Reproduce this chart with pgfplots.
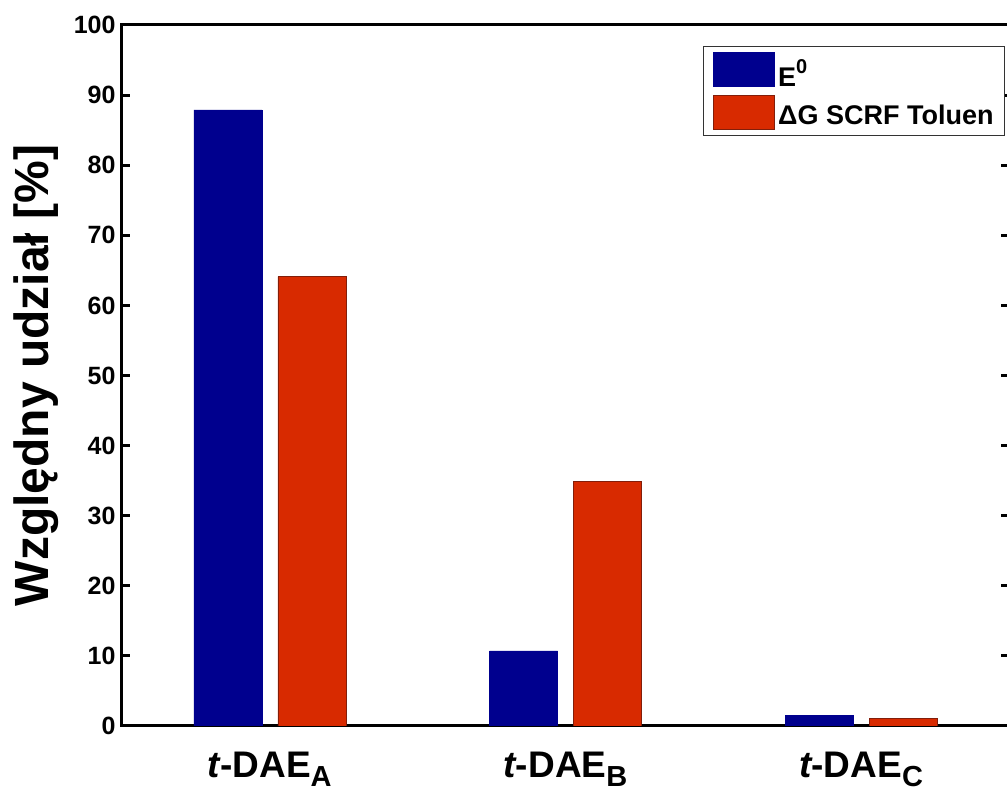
\documentclass[border=0pt]{standalone}
\usepackage{fontspec}
\setmainfont{Liberation Sans}
\usepackage{pgfplots}
\pgfplotsset{compat=1.18}
\definecolor{myblue}{RGB}{0,0,142}
\definecolor{myred}{RGB}{216,42,0}
\definecolor{myrededge}{RGB}{130,30,10}
\newcommand{\sub}[1]{\raisebox{-0.24em}{\fontsize{29}{29}\selectfont #1}}
\begin{document}
\begin{tikzpicture}
\begin{axis}[
  scale only axis, width=887pt, height=701pt,
  xmin=-0.5, xmax=2.5, ymin=0, ymax=100,
  ytick={0,10,...,100},
  xtick={0,1,2},
  xticklabels={{\itshape t}-DAE\sub{A},{\itshape t}-DAE\sub{B},{\itshape t}-DAE\sub{C}},
  ybar, bar width=0.23,
  axis line style={line width=3pt},
  every tick/.style={line width=3pt, black},
  major tick length=8pt, tick align=inside, ytick pos=both,
  xtick style={draw=none},
  /pgf/number format/assume math mode=true,
  yticklabel style={font=\bfseries\fontsize{25}{25}\selectfont, xshift=-3pt},
  xticklabel style={font=\bfseries\fontsize{37}{37}\selectfont, yshift=-25pt, inner sep=1pt},
  ylabel={Względny udział [\%]},
  ylabel style={font=\bfseries\fontsize{48}{48}\selectfont, at={(rel axis cs:0,0.5)}, anchor=center, yshift=85.5pt},
  legend image code/.code={\draw[#1, line width=0.6pt] (0pt,-13pt) rectangle (61pt,21pt);},
  legend style={at={(rel axis cs:1,1)}, anchor=north east, xshift=-4pt, yshift=-21pt,
    draw=black!80, line width=1pt, font=\bfseries\fontsize{27}{27}\selectfont,
    inner xsep=9pt, inner ysep=6pt, row sep=5pt, column sep=2pt,
    nodes={inner sep=2pt}, cells={anchor=west}},
]
\addplot[fill=myblue, draw=myblue, bar shift=-0.142] coordinates {(0,87.9) (1,10.7) (2,1.47)};
\addplot[fill=myred, draw=myrededge, bar shift=0.142] coordinates {(0,64.1) (1,34.9) (2,1.14)};
\legend{E\raisebox{0.45em}{\fontsize{20}{20}\selectfont 0}, ΔG SCRF Toluen}
\coordinate (bl) at (rel axis cs:0,0);
\end{axis}
\pgfresetboundingbox
\path ([shift={(-122pt,-69pt)}]bl) rectangle ([shift={(885pt,726pt)}]bl);
\end{tikzpicture}
\end{document}
